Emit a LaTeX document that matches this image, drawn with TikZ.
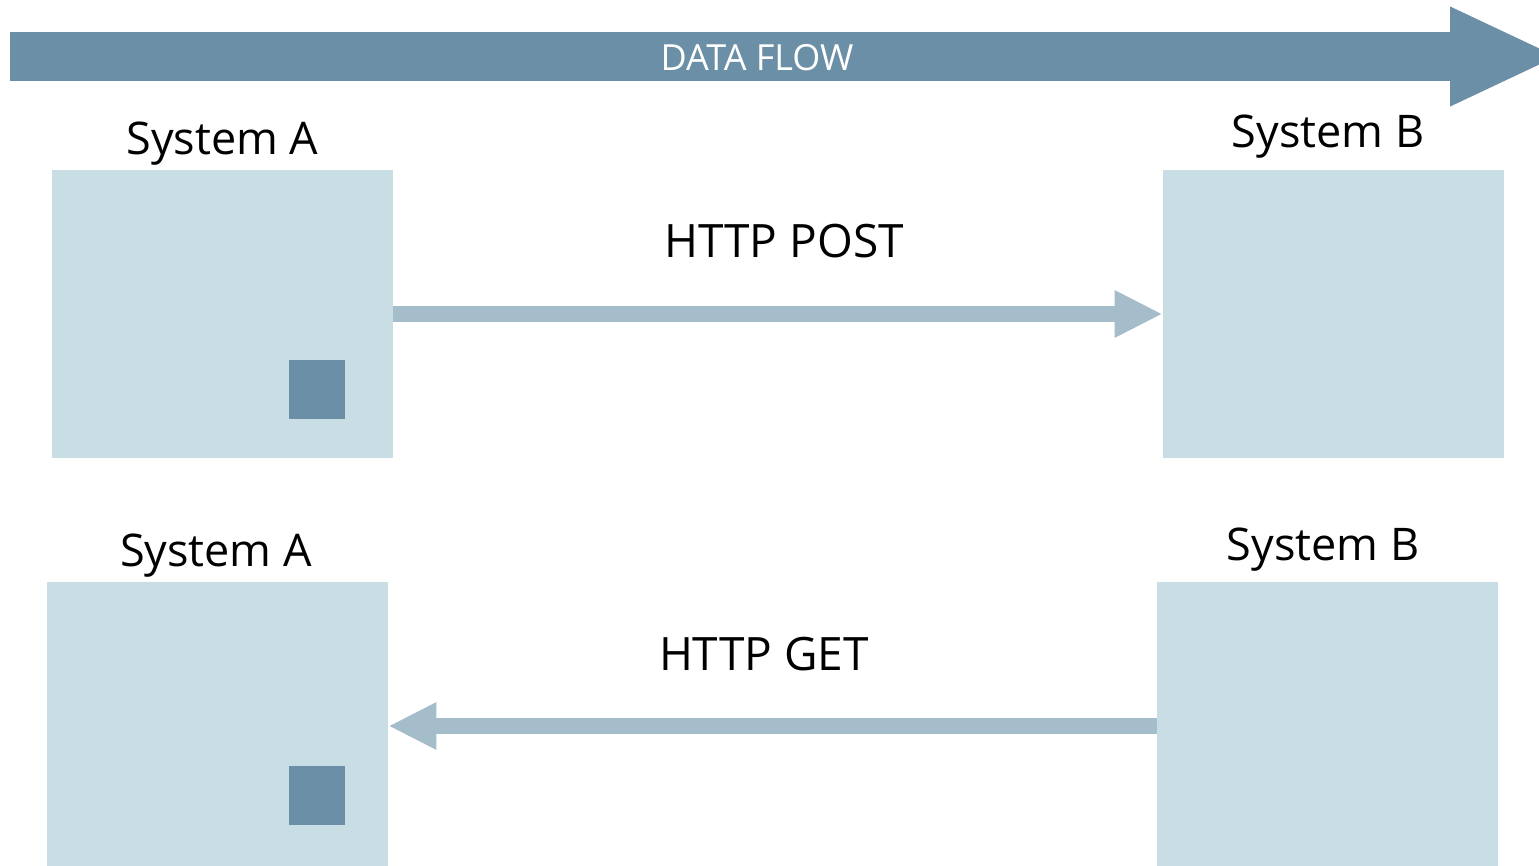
\documentclass[tikz,border=0pt]{standalone}
\usepackage{fontspec}
\setmainfont{Open Sans}
\usetikzlibrary{arrows.meta}
\definecolor{flowblue}{HTML}{6B8FA6}
\definecolor{boxblue}{HTML}{C9DDE5}
\definecolor{linkblue}{HTML}{A5BCCA}
\tikzset{
  sysbox/.style={fill=boxblue, draw=none, minimum width=170.5pt, minimum height=144pt, inner sep=0pt},
  marker/.style={fill=flowblue, draw=none, minimum width=28pt, minimum height=29.5pt, inner sep=0pt},
  syslabel/.style={anchor=base, inner sep=0pt, font=\fontsize{22.5pt}{27pt}\selectfont},
  reqlabel/.style={anchor=base, inner sep=0pt, font=\fontsize{23pt}{27pt}\selectfont},
  request/.style={draw=linkblue, line width=8pt, -{Triangle[width=22pt,length=24pt]}},
  flowarrow/.style={draw=flowblue, line width=24.5pt, -{Triangle[width=45.5pt,length=55pt]}}
}
\begin{document}
\begin{tikzpicture}[x=0.5pt,y=-0.5pt]
  \useasboundingbox (0,0) rectangle (1539,866);
  \clip (0,0) rectangle (1539,866);

  % data flow banner
  \coordinate (flowstart) at (10,56.5);
  \coordinate (flowend) at (1560,56.5);
  \draw[flowarrow] (flowstart) -- (flowend);
  \node[anchor=base, inner sep=0pt, text=white, font=\fontsize{18pt}{21pt}\selectfont] (flowtext) at (757,71) {DATA FLOW};

  % push: system A posts to system B
  \node[sysbox] (a1) at (222.5,314) {};
  \node[sysbox] (b1) at (1333.5,314) {};
  \node[marker] (m1) at (317,389.5) {};
  \node[syslabel] (la1) at (222.5,155) {System A};
  \node[syslabel] (lb1) at (1328,148) {System B};
  \node[reqlabel] (post) at (784,258) {HTTP POST};
  \draw[request] (a1.east) -- (b1.west);

  % pull: system A gets from system B
  \node[sysbox] (a2) at (217.5,726) {};
  \node[sysbox] (b2) at (1327.5,726) {};
  \node[marker] (m2) at (317,795.5) {};
  \node[syslabel] (la2) at (216,567) {System A};
  \node[syslabel] (lb2) at (1323,560) {System B};
  \node[reqlabel] (get) at (764,670) {HTTP GET};
  \draw[request] (b2.west) -- (a2.east);
\end{tikzpicture}
\end{document}
